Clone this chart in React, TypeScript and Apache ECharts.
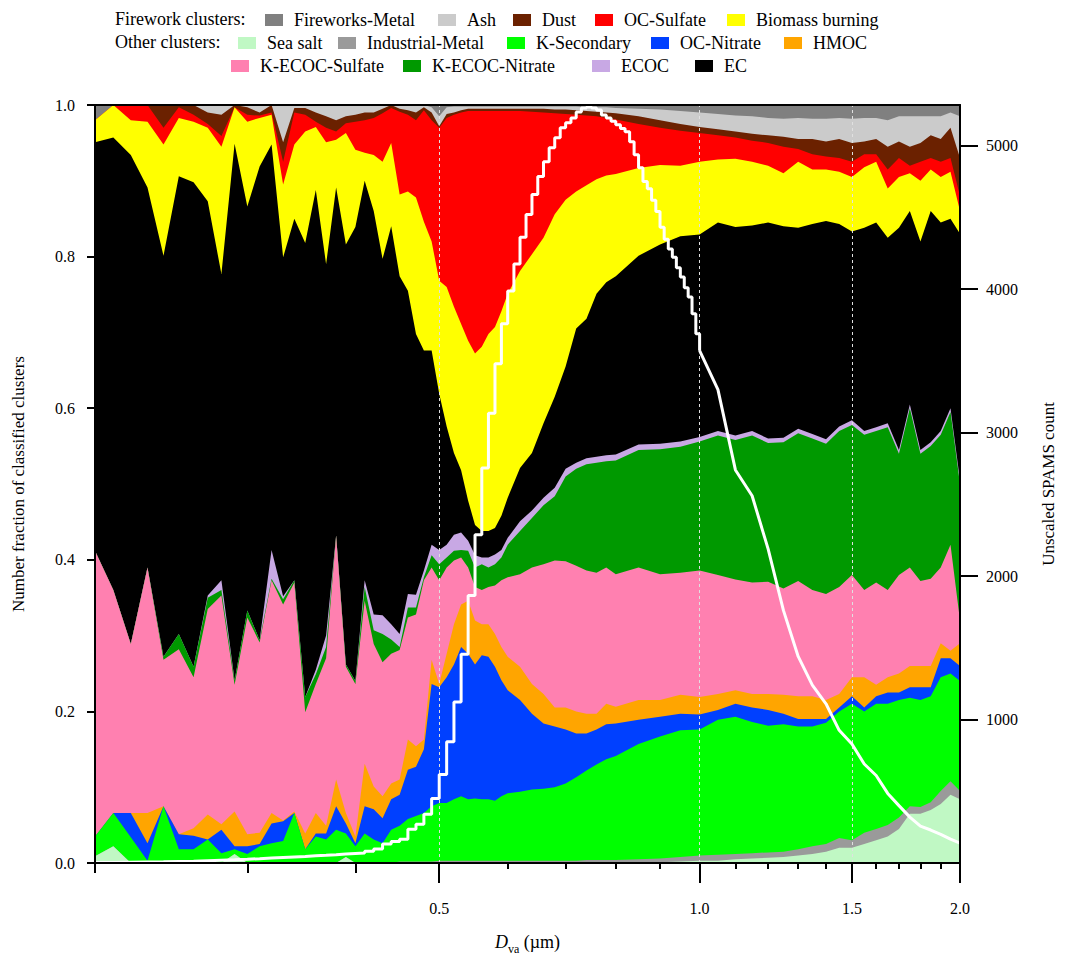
import React, { useEffect, useRef } from "react";
import * as echarts from "echarts";

const FONT = "'Liberation Serif', 'Times New Roman', serif";

// Particle diameter D_va (µm), x positions of the stacked fractions
const diameters = [
  0.20, 0.21, 0.22, 0.23, 0.24, 0.25, 0.26, 0.27, 0.28, 0.29,
  0.30, 0.31, 0.32, 0.33, 0.34, 0.35, 0.36, 0.37, 0.38, 0.39,
  0.40, 0.41, 0.42, 0.43, 0.44, 0.45, 0.46, 0.47, 0.48, 0.49,
  0.50, 0.51, 0.52, 0.53, 0.54, 0.55, 0.56, 0.57, 0.58, 0.59,
  0.60, 0.62, 0.64, 0.66, 0.68, 0.70, 0.72, 0.74, 0.76, 0.78,
  0.80, 0.85, 0.90, 0.95, 1.00, 1.05, 1.10, 1.15, 1.20, 1.25,
  1.30, 1.35, 1.40, 1.45, 1.50, 1.55, 1.60, 1.65, 1.70, 1.75,
  1.80, 1.85, 1.90, 1.95, 2.00,
];

// Cumulative number fraction (upper edge of each stacked band), bottom to top
const cumSeaSalt = [
  0.009, 0.022, 0, 0, 0, 0, 0, 0, 0, 0.012,
  0, 0, 0, 0, 0, 0, 0, 0, 0, 0.008,
  0, 0, 0, 0, 0, 0, 0, 0, 0, 0,
  0, 0, 0, 0, 0, 0, 0, 0, 0, 0,
  0, 0, 0, 0, 0, 0, 0, 0, 0, 0,
  0.001, 0.001, 0.001, 0.002, 0.003, 0.003, 0.005, 0.006, 0.007, 0.008,
  0.010, 0.012, 0.015, 0.020, 0.020, 0.025, 0.030, 0.035, 0.045, 0.065,
  0.065, 0.070, 0.078, 0.090, 0.084,
];
const cumIndustrialMetal = [
  0.009, 0.022, 0, 0, 0, 0, 0, 0, 0, 0.012,
  0, 0, 0, 0, 0, 0, 0, 0, 0, 0.008,
  0, 0, 0, 0, 0, 0.002, 0.002, 0.002, 0.002, 0.002,
  0.003, 0.003, 0.003, 0.003, 0.003, 0.003, 0.003, 0.003, 0.003, 0.003,
  0.003, 0.003, 0.003, 0.003, 0.003, 0.003, 0.003, 0.004, 0.004, 0.004,
  0.004, 0.005, 0.006, 0.008, 0.010, 0.011, 0.012, 0.013, 0.014, 0.015,
  0.018, 0.022, 0.025, 0.033, 0.030, 0.040, 0.045, 0.050, 0.060, 0.075,
  0.074, 0.080, 0.095, 0.108, 0.095,
];
const cumKSecondary = [
  0.035, 0.066, 0.034, 0.003, 0.075, 0.018, 0.018, 0.031, 0.013, 0.018,
  0.012, 0.022, 0.026, 0.029, 0.066, 0.018, 0.035, 0.031, 0.044, 0.039,
  0.022, 0.039, 0.031, 0.026, 0.044, 0.049, 0.058, 0.062, 0.066, 0.075,
  0.079, 0.079, 0.084, 0.088, 0.084, 0.085, 0.084, 0.084, 0.082, 0.088,
  0.092, 0.094, 0.097, 0.098, 0.100, 0.105, 0.113, 0.122, 0.130, 0.137,
  0.141, 0.157, 0.167, 0.175, 0.176, 0.189, 0.193, 0.186, 0.181, 0.183,
  0.180, 0.180, 0.185, 0.200, 0.210, 0.200, 0.210, 0.210, 0.215, 0.218,
  0.215, 0.220, 0.245, 0.250, 0.240,
];
const cumOCNitrate = [
  0.035, 0.066, 0.066, 0.026, 0.075, 0.038, 0.036, 0.031, 0.044, 0.022,
  0.022, 0.025, 0.052, 0.055, 0.066, 0.018, 0.039, 0.039, 0.075, 0.052,
  0.026, 0.075, 0.071, 0.059, 0.084, 0.090, 0.123, 0.127, 0.150, 0.236,
  0.232, 0.245, 0.262, 0.285, 0.276, 0.262, 0.274, 0.272, 0.259, 0.241,
  0.228, 0.215, 0.197, 0.184, 0.180, 0.176, 0.171, 0.171, 0.176, 0.183,
  0.184, 0.189, 0.193, 0.197, 0.196, 0.202, 0.210, 0.205, 0.202, 0.197,
  0.190, 0.190, 0.190, 0.205, 0.220, 0.205, 0.220, 0.225, 0.225, 0.232,
  0.232, 0.232, 0.270, 0.270, 0.260,
];
const cumHMOC = [
  0.035, 0.066, 0.066, 0.066, 0.075, 0.038, 0.046, 0.064, 0.051, 0.068,
  0.038, 0.040, 0.066, 0.056, 0.068, 0.039, 0.066, 0.049, 0.110, 0.066,
  0.035, 0.131, 0.101, 0.088, 0.105, 0.110, 0.163, 0.154, 0.163, 0.268,
  0.236, 0.276, 0.315, 0.341, 0.346, 0.320, 0.315, 0.315, 0.302, 0.285,
  0.272, 0.259, 0.236, 0.223, 0.205, 0.205, 0.200, 0.197, 0.197, 0.210,
  0.206, 0.215, 0.215, 0.222, 0.219, 0.223, 0.228, 0.223, 0.223, 0.222,
  0.220, 0.220, 0.215, 0.223, 0.245, 0.245, 0.235, 0.245, 0.250, 0.260,
  0.260, 0.260, 0.290, 0.280, 0.290,
];
const cumKECOCSulfate = [
  0.412, 0.360, 0.289, 0.390, 0.268, 0.282, 0.245, 0.335, 0.353, 0.235,
  0.324, 0.291, 0.373, 0.341, 0.370, 0.199, 0.236, 0.270, 0.432, 0.259,
  0.236, 0.346, 0.289, 0.265, 0.276, 0.281, 0.324, 0.328, 0.373, 0.390,
  0.373, 0.390, 0.399, 0.403, 0.390, 0.364, 0.360, 0.364, 0.366, 0.373,
  0.377, 0.381, 0.390, 0.394, 0.399, 0.398, 0.392, 0.386, 0.383, 0.390,
  0.381, 0.390, 0.381, 0.383, 0.386, 0.380, 0.374, 0.370, 0.371, 0.362,
  0.372, 0.360, 0.355, 0.364, 0.380, 0.360, 0.370, 0.360, 0.380, 0.390,
  0.372, 0.375, 0.390, 0.420, 0.320,
];
const cumKECOCNitrate = [
  0.412, 0.360, 0.289, 0.390, 0.272, 0.302, 0.259, 0.350, 0.360, 0.241,
  0.333, 0.294, 0.375, 0.348, 0.373, 0.219, 0.249, 0.285, 0.432, 0.262,
  0.240, 0.364, 0.307, 0.302, 0.295, 0.285, 0.337, 0.337, 0.377, 0.406,
  0.394, 0.403, 0.412, 0.413, 0.412, 0.390, 0.394, 0.390, 0.394, 0.403,
  0.420, 0.438, 0.455, 0.472, 0.484, 0.510, 0.520, 0.526, 0.528, 0.530,
  0.531, 0.545, 0.546, 0.549, 0.556, 0.564, 0.558, 0.564, 0.554, 0.555,
  0.567, 0.560, 0.553, 0.570, 0.578, 0.565, 0.570, 0.575, 0.540, 0.600,
  0.540, 0.550, 0.565, 0.595, 0.500,
];
const cumECOC = [
  0.412, 0.360, 0.289, 0.390, 0.272, 0.302, 0.259, 0.353, 0.373, 0.241,
  0.333, 0.294, 0.413, 0.352, 0.373, 0.219, 0.255, 0.300, 0.432, 0.262,
  0.240, 0.373, 0.328, 0.327, 0.315, 0.302, 0.355, 0.354, 0.386, 0.420,
  0.413, 0.420, 0.433, 0.436, 0.425, 0.406, 0.403, 0.403, 0.407, 0.413,
  0.429, 0.451, 0.465, 0.482, 0.495, 0.520, 0.528, 0.534, 0.536, 0.538,
  0.539, 0.552, 0.553, 0.556, 0.562, 0.570, 0.564, 0.570, 0.560, 0.561,
  0.573, 0.566, 0.559, 0.576, 0.584, 0.570, 0.575, 0.580, 0.545, 0.605,
  0.545, 0.555, 0.570, 0.600, 0.505,
];
const cumEC = [
  0.951, 0.957, 0.934, 0.891, 0.801, 0.906, 0.898, 0.873, 0.777, 0.949,
  0.866, 0.919, 0.948, 0.799, 0.850, 0.818, 0.888, 0.790, 0.891, 0.816,
  0.839, 0.900, 0.860, 0.797, 0.840, 0.774, 0.755, 0.698, 0.676, 0.676,
  0.619, 0.576, 0.541, 0.518, 0.478, 0.446, 0.438, 0.438, 0.442, 0.458,
  0.482, 0.521, 0.541, 0.580, 0.615, 0.655, 0.705, 0.718, 0.751, 0.766,
  0.774, 0.801, 0.816, 0.827, 0.829, 0.845, 0.839, 0.841, 0.845, 0.840,
  0.838, 0.843, 0.847, 0.843, 0.833, 0.838, 0.845, 0.825, 0.838, 0.860,
  0.820, 0.860, 0.845, 0.850, 0.830,
];
const cumBiomassBurning = [
  0.980, 1.000, 0.980, 0.978, 0.948, 0.983, 0.978, 0.970, 0.945, 0.997,
  0.978, 0.983, 0.987, 0.895, 0.948, 0.965, 0.971, 0.951, 0.954, 0.963,
  0.941, 0.937, 0.934, 0.925, 0.950, 0.882, 0.886, 0.878, 0.846, 0.820,
  0.768, 0.760, 0.734, 0.711, 0.689, 0.672, 0.681, 0.698, 0.707, 0.728,
  0.751, 0.781, 0.803, 0.825, 0.856, 0.875, 0.886, 0.894, 0.902, 0.907,
  0.909, 0.917, 0.921, 0.920, 0.925, 0.928, 0.929, 0.925, 0.920, 0.910,
  0.925, 0.915, 0.915, 0.912, 0.905, 0.918, 0.925, 0.890, 0.905, 0.910,
  0.900, 0.915, 0.905, 0.912, 0.860,
];
const cumOCSulfate = [
  0.980, 1.000, 1.000, 1.000, 0.970, 0.997, 0.987, 0.975, 0.959, 0.997,
  0.987, 0.986, 0.990, 0.925, 0.990, 0.987, 0.978, 0.970, 0.965, 0.976,
  0.978, 0.980, 0.983, 0.989, 0.996, 0.991, 0.987, 0.980, 0.993, 0.980,
  0.970, 0.983, 0.987, 0.990, 0.992, 0.992, 0.992, 0.992, 0.992, 0.992,
  0.992, 0.992, 0.991, 0.990, 0.989, 0.988, 0.987, 0.986, 0.985, 0.983,
  0.981, 0.975, 0.970, 0.966, 0.963, 0.960, 0.957, 0.953, 0.950, 0.945,
  0.942, 0.935, 0.932, 0.930, 0.925, 0.935, 0.935, 0.915, 0.930, 0.920,
  0.925, 0.930, 0.925, 0.930, 0.880,
];
const cumDust = [
  0.980, 1.000, 1.000, 1.000, 1.000, 1.000, 1.000, 0.990, 0.987, 1.000,
  0.997, 0.990, 1.000, 0.951, 0.996, 0.996, 0.990, 0.985, 0.980, 0.985,
  0.987, 0.990, 0.990, 0.995, 1.000, 0.995, 0.993, 0.990, 0.997, 0.990,
  0.972, 0.988, 0.990, 0.993, 0.995, 0.995, 0.995, 0.995, 0.995, 0.995,
  0.995, 0.995, 0.995, 0.995, 0.994, 0.994, 0.993, 0.992, 0.991, 0.990,
  0.989, 0.985, 0.980, 0.975, 0.971, 0.968, 0.965, 0.962, 0.960, 0.958,
  0.955, 0.955, 0.952, 0.955, 0.950, 0.952, 0.955, 0.945, 0.952, 0.945,
  0.950, 0.960, 0.955, 0.970, 0.930,
];
const cumAsh = [
  0.980, 1.000, 1.000, 1.000, 1.000, 1.000, 1.000, 1.000, 1.000, 1.000,
  1.000, 1.000, 1.000, 1.000, 1.000, 1.000, 1.000, 1.000, 1.000, 1.000,
  1.000, 1.000, 1.000, 1.000, 1.000, 1.000, 1.000, 1.000, 1.000, 0.997,
  0.985, 0.997, 0.998, 0.998, 0.998, 0.998, 0.998, 0.998, 0.998, 0.998,
  0.998, 0.998, 0.998, 0.998, 0.998, 0.998, 0.998, 0.997, 0.997, 0.997,
  0.996, 0.995, 0.994, 0.992, 0.990, 0.988, 0.986, 0.985, 0.983, 0.982,
  0.983, 0.982, 0.982, 0.983, 0.982, 0.983, 0.983, 0.980, 0.985, 0.985,
  0.985, 0.985, 0.985, 0.990, 0.985,
];
const cumFireworksMetal = [
  1, 1, 1, 1, 1, 1, 1, 1, 1, 1,
  1, 1, 1, 1, 1, 1, 1, 1, 1, 1,
  1, 1, 1, 1, 1, 1, 1, 1, 1, 1,
  1, 1, 1, 1, 1, 1, 1, 1, 1, 1,
  1, 1, 1, 1, 1, 1, 1, 1, 1, 1,
  1, 1, 1, 1, 1, 1, 1, 1, 1, 1,
  1, 1, 1, 1, 1, 1, 1, 1, 1, 1,
  1, 1, 1, 1, 1,
];

// Unscaled SPAMS count: 0.01 µm bins (bin start) up to 1.00 µm
const countBinStart = [
  0.20, 0.21, 0.22, 0.23, 0.24, 0.25, 0.26, 0.27, 0.28, 0.29,
  0.30, 0.31, 0.32, 0.33, 0.34, 0.35, 0.36, 0.37, 0.38, 0.39,
  0.40, 0.41, 0.42, 0.43, 0.44, 0.45, 0.46, 0.47, 0.48, 0.49,
  0.50, 0.51, 0.52, 0.53, 0.54, 0.55, 0.56, 0.57, 0.58, 0.59,
  0.60, 0.61, 0.62, 0.63, 0.64, 0.65, 0.66, 0.67, 0.68, 0.69,
  0.70, 0.71, 0.72, 0.73, 0.74, 0.75, 0.76, 0.77, 0.78, 0.79,
  0.80, 0.81, 0.82, 0.83, 0.84, 0.85, 0.86, 0.87, 0.88, 0.89,
  0.90, 0.91, 0.92, 0.93, 0.94, 0.95, 0.96, 0.97, 0.98, 0.99,
  1.00,
];
const countStepped = [
  3, 5, 7, 9, 11, 13, 16, 19, 22, 26,
  30, 34, 38, 42, 46, 50, 54, 58, 62, 66,
  70, 82, 97, 132, 150, 166, 236, 270, 340, 450,
  617, 846, 1123, 1456, 1865, 2288, 2753, 3135, 3481, 3759,
  3988, 4175, 4362, 4521, 4660, 4785, 4889, 4986, 5055, 5125,
  5160, 5194, 5236, 5263, 5270, 5263, 5250, 5215, 5194, 5170,
  5146, 5120, 5097, 5028, 4938, 4847, 4750, 4700, 4620, 4542,
  4431, 4348, 4280, 4223, 4150, 4085, 4010, 3946, 3828, 3689,
  3571,
];
// Beyond 1.0 µm the bins are too narrow to see single steps
const countTailD = [
  1.00, 1.05, 1.10, 1.15, 1.20, 1.25, 1.30, 1.35, 1.40, 1.45,
  1.50, 1.55, 1.60, 1.65, 1.70, 1.75, 1.80, 1.85, 1.90, 1.95, 2.00,
];
const countTail = [
  3571, 3300, 2740, 2560, 2190, 1761, 1440, 1240, 1110, 925,
  830, 690, 610, 485, 400, 320, 257, 230, 200, 166, 139,
];

const xLabelTicks = [0.5, 1.0, 1.5, 1.9999];
const xMidTicks = [0.2001, 0.3, 0.4];
const xMinorTicks = [0.6, 0.7, 0.8, 0.9, 1.1, 1.2, 1.3, 1.4, 1.6, 1.7, 1.8, 1.9];
const rightTicks = [1000, 2000, 3000, 4000, 5000];
const gridLinesAt = [0.5, 1.0, 1.5];

// drawn top band first, lower bands painted over it
const clusters = [
  { name: "Fireworks-Metal", color: "#808080", top: cumFireworksMetal },
  { name: "Ash", color: "#CBCBCB", top: cumAsh },
  { name: "Dust", color: "#6B2100", top: cumDust },
  { name: "OC-Sulfate", color: "#FF0000", top: cumOCSulfate },
  { name: "Biomass burning", color: "#FFFF00", top: cumBiomassBurning },
  { name: "EC", color: "#000000", top: cumEC },
  { name: "ECOC", color: "#C8A8E4", top: cumECOC },
  { name: "K-ECOC-Nitrate", color: "#009900", top: cumKECOCNitrate },
  { name: "K-ECOC-Sulfate", color: "#FF80B0", top: cumKECOCSulfate },
  { name: "HMOC", color: "#FFA500", top: cumHMOC },
  { name: "OC-Nitrate", color: "#0040FF", top: cumOCNitrate },
  { name: "K-Secondary", color: "#00FF00", top: cumKSecondary },
  { name: "Industrial-Metal", color: "#9A9A9A", top: cumIndustrialMetal },
  { name: "Sea salt", color: "#C0F8C4", top: cumSeaSalt },
];

const legendItems = [
  { name: "Fireworks-Metal", left: 265, top: 11 },
  { name: "Ash", left: 438, top: 11 },
  { name: "Dust", left: 513, top: 11 },
  { name: "OC-Sulfate", left: 595, top: 11 },
  { name: "Biomass burning", left: 727, top: 11 },
  { name: "Sea salt", left: 238, top: 34 },
  { name: "Industrial-Metal", left: 338, top: 34 },
  { name: "K-Secondary", left: 507, top: 34 },
  { name: "OC-Nitrate", left: 651, top: 34 },
  { name: "HMOC", left: 784, top: 34 },
  { name: "K-ECOC-Sulfate", left: 231, top: 57 },
  { name: "K-ECOC-Nitrate", left: 403, top: 57 },
  { name: "ECOC", left: 592, top: 57 },
  { name: "EC", left: 695, top: 57 },
];

function buildOption() {
  const black = { color: "#000", width: 2 };
  const logX = {
    type: "log",
    logBase: 10,
    min: 0.2,
    max: 2.0,
    gridIndex: 0,
    z: 10,
    splitLine: { show: false },
  };
  const xAxis = [
    {
      ...logX,
      position: "bottom",
      axisLine: { show: true, onZero: false, lineStyle: black },
      axisTick: { show: true, length: 20, customValues: xLabelTicks, lineStyle: black },
      axisLabel: {
        show: true,
        customValues: xLabelTicks,
        formatter: (v: number) => v.toFixed(1),
        fontFamily: FONT,
        fontSize: 16,
        color: "#000",
        margin: 37,
      },
      name: "{i|D}{s|va}{n| (µm)}",
      nameLocation: "middle",
      nameGap: 66,
      nameTextStyle: {
        rich: {
          i: { fontFamily: FONT, fontSize: 18, fontStyle: "italic", color: "#000", lineHeight: 26, verticalAlign: "middle" },
          s: { fontFamily: FONT, fontSize: 12, color: "#000", lineHeight: 26, verticalAlign: "bottom" },
          n: { fontFamily: FONT, fontSize: 18, color: "#000", lineHeight: 26, verticalAlign: "middle" },
        },
      },
    },
    {
      ...logX,
      position: "bottom",
      axisLine: { show: false },
      axisTick: { show: true, length: 10, customValues: xMidTicks, lineStyle: black },
      axisLabel: { show: false },
    },
    {
      ...logX,
      position: "bottom",
      axisLine: { show: false },
      axisTick: { show: true, length: 6, customValues: xMinorTicks, lineStyle: black },
      axisLabel: { show: false },
    },
    {
      ...logX,
      position: "top",
      axisLine: { show: true, onZero: false, lineStyle: black },
      axisTick: { show: false },
      axisLabel: { show: false },
    },
  ];

  const yAxis = [
    {
      type: "value",
      min: 0,
      max: 1,
      interval: 0.2,
      position: "left",
      z: 10,
      axisLine: { show: true, onZero: false, lineStyle: black },
      axisTick: { show: true, length: 8, lineStyle: black },
      axisLabel: {
        formatter: (v: number) => v.toFixed(1),
        fontFamily: FONT,
        fontSize: 16,
        color: "#000",
        margin: 20,
      },
      splitLine: { show: false },
      name: "Number fraction of classified clusters",
      nameLocation: "middle",
      nameGap: 68,
      nameTextStyle: { fontFamily: FONT, fontSize: 17, color: "#000" },
    },
    {
      type: "value",
      min: 0,
      max: 5284,
      position: "right",
      z: 10,
      axisLine: { show: true, onZero: false, lineStyle: black },
      axisTick: { show: true, length: 18, customValues: rightTicks, lineStyle: black },
      axisLabel: {
        customValues: rightTicks,
        formatter: (v: number) => String(Math.round(v)),
        fontFamily: FONT,
        fontSize: 16,
        color: "#000",
        margin: 26,
      },
      splitLine: { show: false },
      name: "Unscaled SPAMS count",
      nameLocation: "middle",
      nameGap: 80,
      nameRotate: 90,
      nameTextStyle: { fontFamily: FONT, fontSize: 17, color: "#000" },
    },
  ];

  const areaSeries = clusters.map((c) => ({
    type: "line",
    name: c.name,
    xAxisIndex: 0,
    yAxisIndex: 0,
    data: diameters.map((d, i) => [d, c.top[i]]),
    showSymbol: false,
    symbol: "none",
    itemStyle: { color: c.color },
    lineStyle: { width: 0, opacity: 0 },
    areaStyle: { color: c.color, opacity: 1 },
    z: 2,
    silent: true,
  }));

  const countSeries = [
    {
      type: "line",
      name: "SPAMS count",
      xAxisIndex: 0,
      yAxisIndex: 1,
      step: "end",
      data: countBinStart.map((d, i) => [d, countStepped[i]]),
      showSymbol: false,
      symbol: "none",
      lineStyle: { color: "#FFFFFF", width: 3 },
      itemStyle: { color: "#FFFFFF" },
      z: 6,
      silent: true,
      markLine: {
        silent: true,
        symbol: "none",
        label: { show: false },
        lineStyle: { color: "#E0E0E0", type: [3, 3], width: 1 },
        data: gridLinesAt.map((v) => ({ xAxis: v })),
      },
    },
    {
      type: "line",
      name: "SPAMS count (tail)",
      xAxisIndex: 0,
      yAxisIndex: 1,
      data: countTailD.map((d, i) => [d, countTail[i]]),
      showSymbol: false,
      symbol: "none",
      lineStyle: { color: "#FFFFFF", width: 3 },
      itemStyle: { color: "#FFFFFF" },
      z: 6,
      silent: true,
    },
  ];

  const legend = legendItems.map((l) => ({
    show: true,
    data: [l.name],
    left: l.left,
    top: l.top,
    padding: 0,
    itemGap: 0,
    itemWidth: 18,
    itemHeight: 12,
    icon: "rect",
    selectedMode: false,
    itemStyle: { borderWidth: 0 },
    textStyle: { fontFamily: FONT, fontSize: 18, color: "#000", padding: [0, 0, 0, 6] },
  }));

  return {
    animation: false,
    backgroundColor: "#FFFFFF",
    textStyle: { fontFamily: FONT },
    grid: { left: 95, top: 105, width: 865, height: 762, containLabel: false },
    legend,
    xAxis,
    yAxis,
    series: [...areaSeries, ...countSeries],
    graphic: [
      {
        type: "text",
        left: 115,
        top: 10,
        style: { text: "Firework clusters:", fontFamily: FONT, fontSize: 18, fill: "#000" },
      },
      {
        type: "text",
        left: 115,
        top: 33,
        style: { text: "Other clusters:", fontFamily: FONT, fontSize: 18, fill: "#000" },
      },
    ],
  };
}

export default function App() {
  const ref = useRef<HTMLDivElement>(null);
  useEffect(() => {
    if (!ref.current) return;
    const chart = echarts.init(ref.current, null, { renderer: "svg" });
    chart.setOption(buildOption() as any);
    return () => chart.dispose();
  }, []);
  return (
    <div
      ref={ref}
      style={{ position: "fixed", left: 0, top: 0, width: 1076, height: 960, background: "#fff" }}
    />
  );
}
